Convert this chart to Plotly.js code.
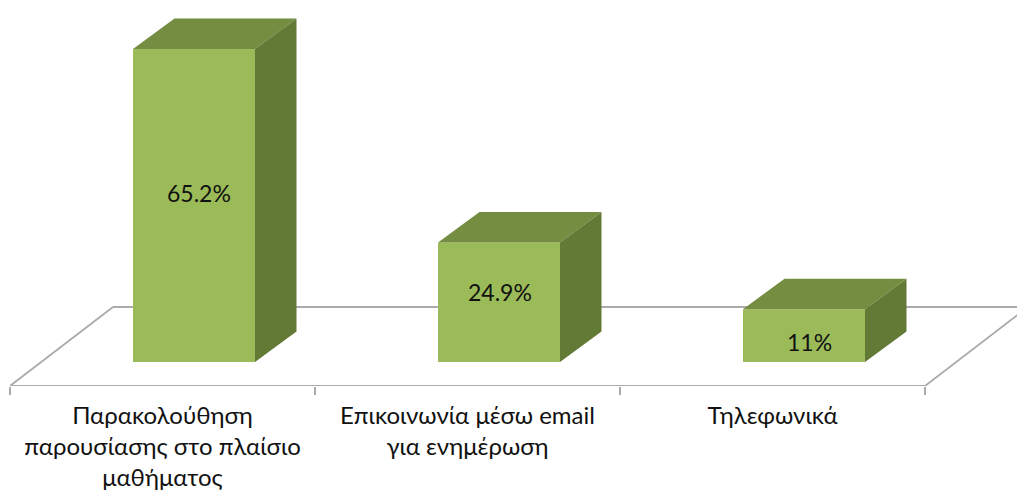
<!DOCTYPE html>
<html>
<head>
<meta charset="utf-8">
<script src="https://cdn.plot.ly/plotly-3.0.1.min.js"></script>
<style>html,body{margin:0;padding:0;background:#fff;overflow:hidden}</style>
</head>
<body>
<div id="chart" style="width:1017px;height:495px"></div>
<script>
const categories = ['Παρακολούθηση<br>παρουσίασης στο πλαίσιο<br>μαθήματος', 'Επικοινωνία μέσω email<br>για ενημέρωση', 'Τηλεφωνικά'];
const values = [65.2, 24.9, 11];
const labels = ['65.2%', '24.9%', '11%'];
const labelShiftsY = [13, 10, -6];
const labelShiftsX = [5, 1, 5];

const xUnitPx = 305, yUnitPx = 4.8;
const xMax = 2.5 + 92 / xUnitPx;
const barShift = 31.5 / xUnitPx;
const depthX = 41.5 / xUnitPx, depthY = 30.5 / yUnitPx;
const halfBar = 0.2;
const floorY = -24 / yUnitPx;
const floorDX = 103 / xUnitPx, floorDY = 79 / yUnitPx;
const gray = '#ABABAB';
const front = '#9BBB59', topC = '#748D41', sideC = '#637A36';
const fontFam = 'Lato, "Open Sans", sans-serif';

const traces = [{
  type: 'bar', x: categories, y: values, width: 2 * halfBar, offset: barShift - halfBar,
  marker: {color: front, line: {width: 0}}, hoverinfo: 'skip', showlegend: false
}];
values.forEach((v, i) => {
  const l = i + barShift - halfBar, r = i + barShift + halfBar;
  traces.push({type: 'scatter', xaxis: 'x2', mode: 'none', fill: 'toself', fillcolor: topC, cliponaxis: false,
    x: [l, r, r + depthX, l + depthX, l], y: [v, v, v + depthY, v + depthY, v], hoverinfo: 'skip', showlegend: false});
  traces.push({type: 'scatter', xaxis: 'x2', mode: 'none', fill: 'toself', fillcolor: sideC, cliponaxis: false,
    x: [r, r + depthX, r + depthX, r, r], y: [0, depthY, v + depthY, v, 0], hoverinfo: 'skip', showlegend: false});
});

const floorLine = (x0, y0, x1, y1) => ({type: 'line', layer: 'below', xref: 'x', yref: 'y', x0, y0, x1, y1, line: {color: gray, width: 1.8}});

const layout = {
  width: 1017, height: 495,
  margin: {l: 10, r: 0, t: 0, b: 109, pad: 0},
  paper_bgcolor: '#fff', plot_bgcolor: 'rgba(0,0,0,0)',
  showlegend: false, hovermode: false, bargap: 0.6,
  font: {family: fontFam, size: 24, color: '#111'},
  xaxis: {type: 'category', categoryorder: 'array', categoryarray: categories, tickson: 'boundaries', ticks: 'outside', ticklen: 8, tickwidth: 1.6, tickcolor: gray,
    showline: false, showgrid: false, zeroline: false, ticklabelstandoff: 13,
    tickfont: {family: fontFam, size: 24, color: '#111'}, range: [-0.5, xMax], tickangle: 0, automargin: false},
  xaxis2: {overlaying: 'x', anchor: 'y', range: [-0.5, xMax], visible: false},
  yaxis: {range: [floorY, 362 / yUnitPx], visible: false, zeroline: false, showgrid: false},
  shapes: [
    floorLine(-0.5, floorY, 2.5, floorY),
    floorLine(-0.5, floorY, -0.5 + floorDX, floorY + floorDY),
    floorLine(-0.5 + floorDX, floorY + floorDY, 2.5 + floorDX, floorY + floorDY),
    floorLine(2.5, floorY, 2.5 + floorDX, floorY + floorDY)
  ],
  annotations: values.map((v, i) => ({
    x: i + barShift, y: v / 2, xref: 'x2', yref: 'y', text: labels[i], showarrow: false, xshift: labelShiftsX[i], yshift: labelShiftsY[i],
    font: {family: fontFam, size: 23, color: '#111'}
  }))
};
Plotly.newPlot('chart', traces, layout, {staticPlot: true, displayModeBar: false});
</script>
</body>
</html>
